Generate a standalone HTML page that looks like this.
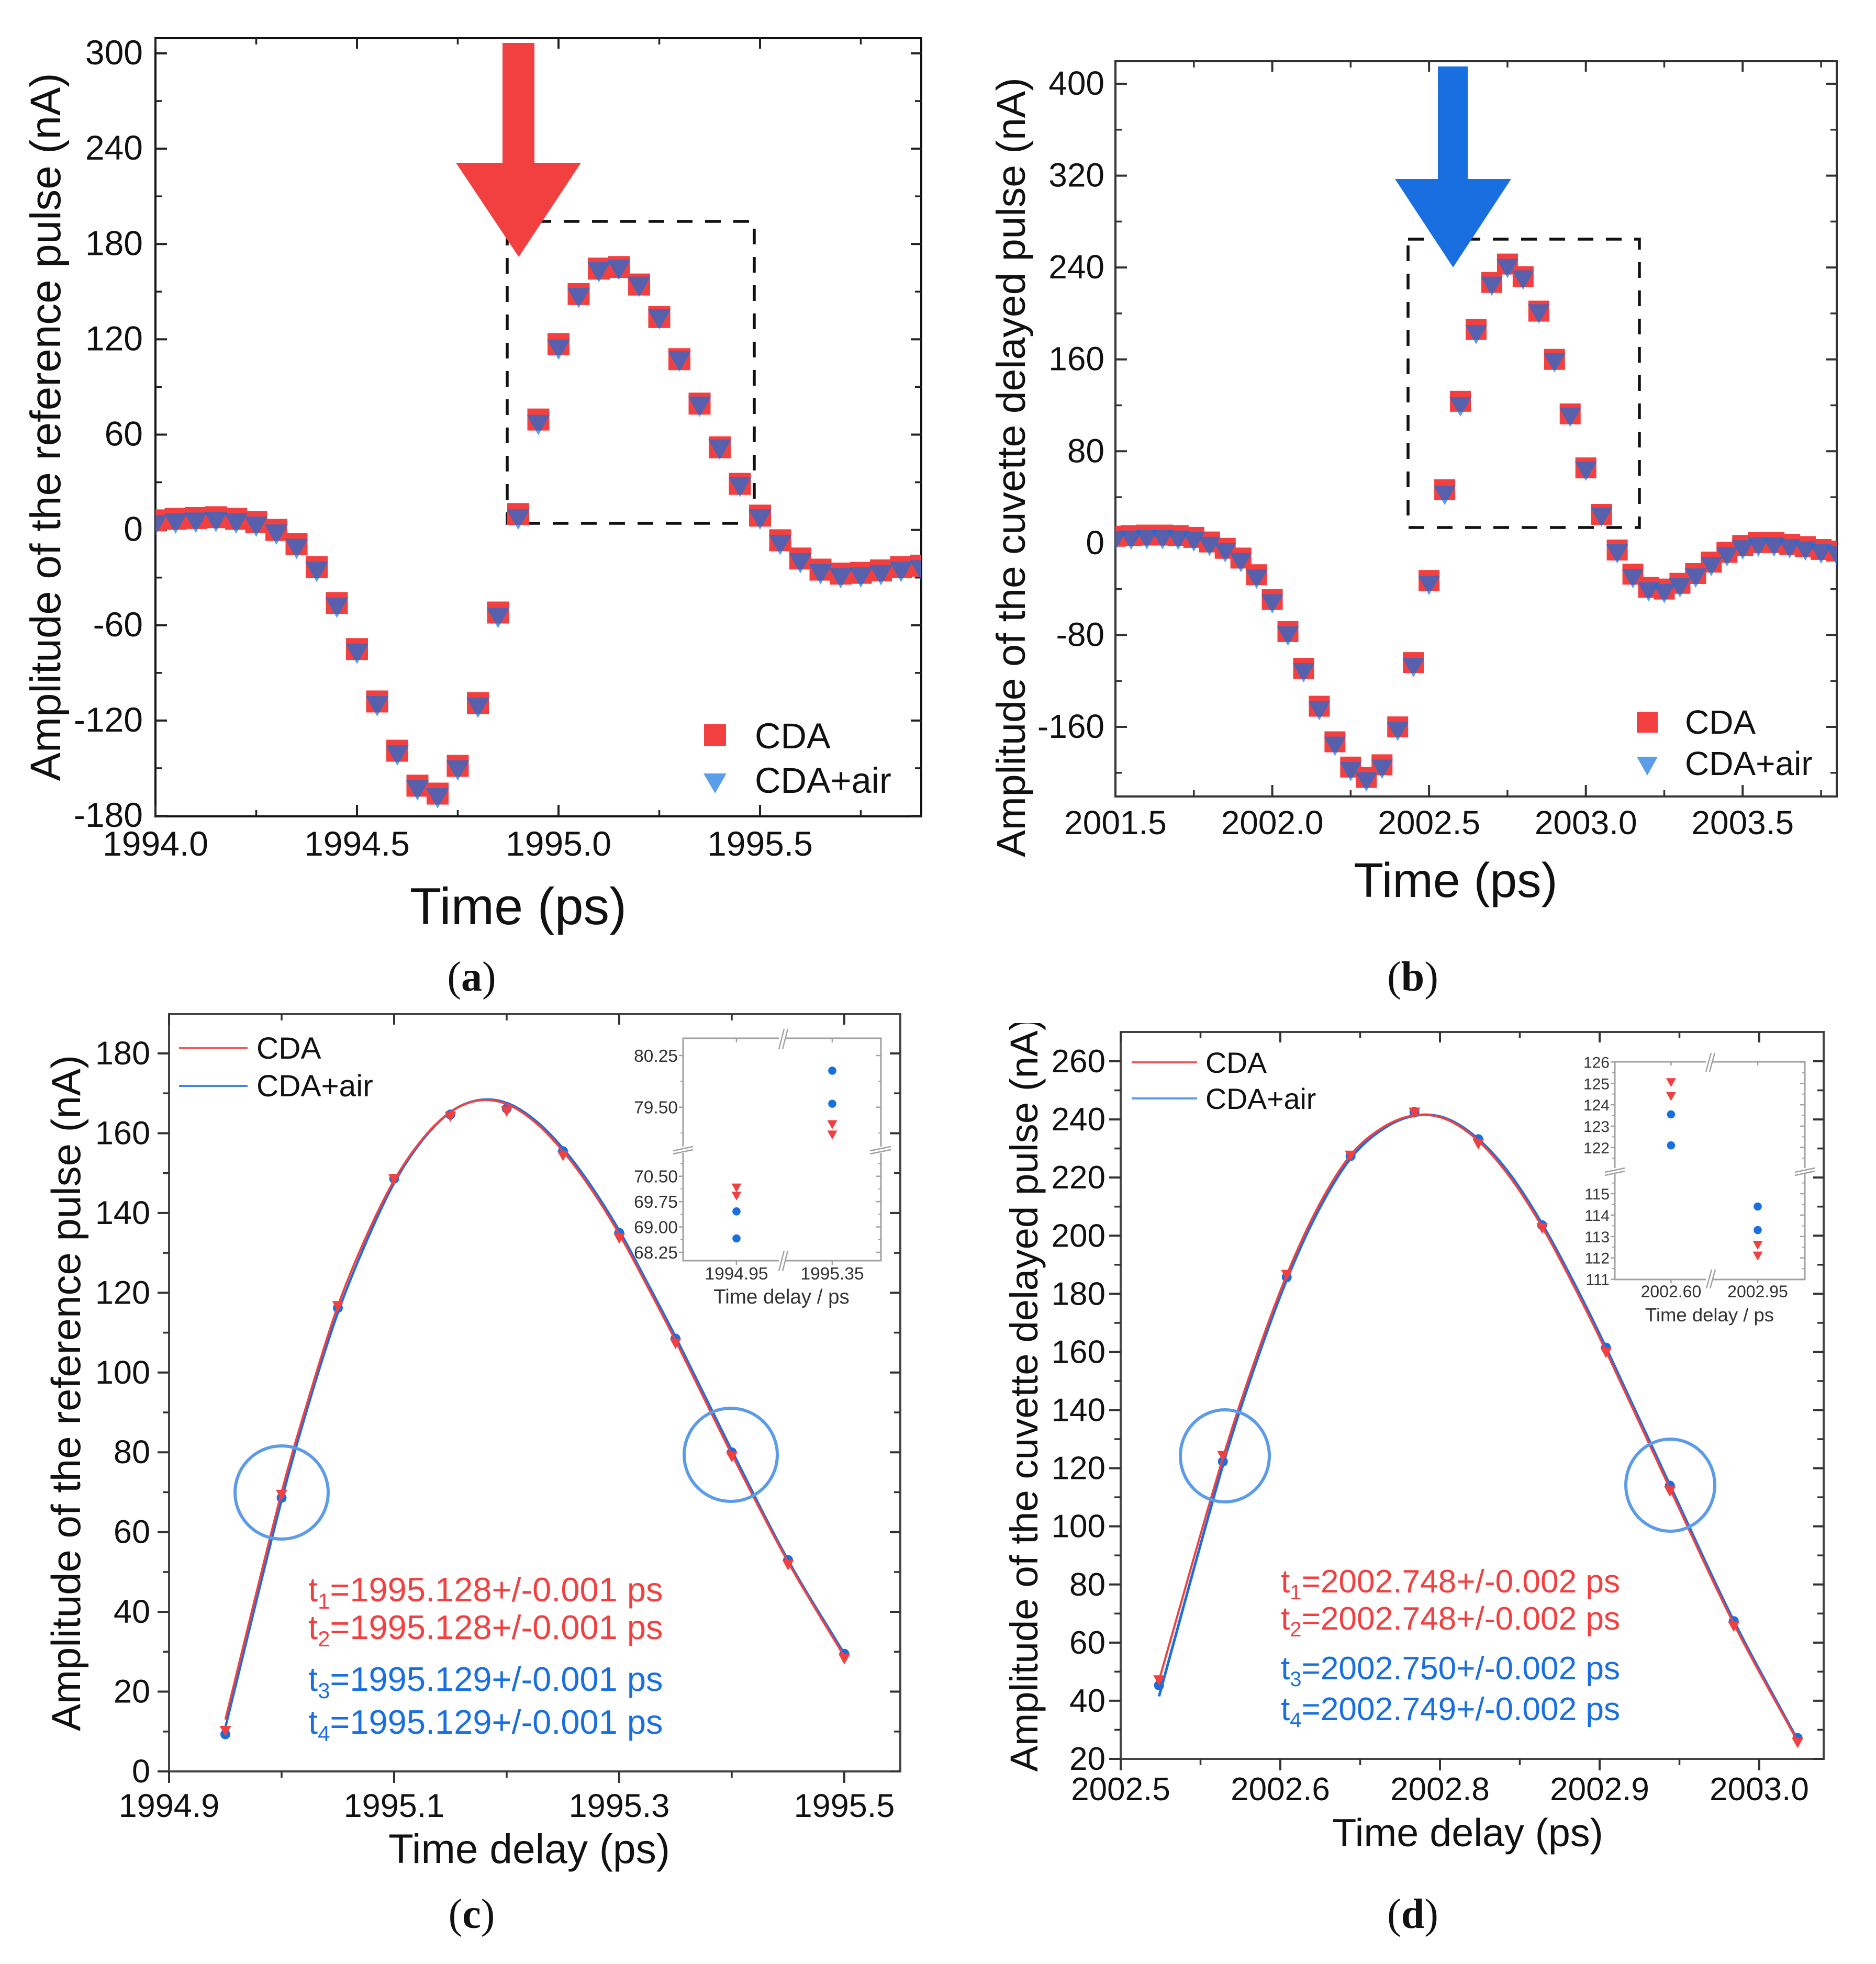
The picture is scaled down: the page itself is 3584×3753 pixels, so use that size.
<!DOCTYPE html>
<html lang="en">
<head>
<meta charset="utf-8">
<title>Reference and cuvette delayed pulse amplitudes</title>
<style>
html,body{margin:0;padding:0;background:#fff;}
svg{display:block;font-family:"Liberation Sans",Arial,sans-serif;}
text{fill:#111;}
.serif{font-family:"Liberation Serif",serif;font-size:80px;text-anchor:middle;}
.serif tspan{font-weight:bold;}
</style>
</head>
<body>
<svg id="figure" xmlns="http://www.w3.org/2000/svg" width="3584" height="3753" viewBox="0 0 3584 3753">
<defs>
  <clipPath id="a-plot-clip"><rect x="297" y="73" width="1463" height="1487"/></clipPath>
  <clipPath id="b-plot-clip"><rect x="2131" y="117" width="1378" height="1405"/></clipPath>
  <clipPath id="d-title-clip"><rect x="1880" y="1955" width="200" height="1500"/></clipPath>
</defs>
<rect width="3584" height="3753" fill="#fff"/>

<!-- PANEL A -->
<g id="panel-a">
  <rect x="297" y="73" width="1463" height="1487" fill="none" stroke="#111" stroke-width="4"/>
  <g id="a-axes"></g>
  <rect x="969" y="423" width="472" height="577" fill="none" stroke="#111" stroke-width="5.5" stroke-dasharray="30 24"/>
  <g id="a-marks" clip-path="url(#a-plot-clip)"></g>
  <polygon points="960,82 1021,82 1021,311 1110,311 991,491 871,311 960,311" fill="#f24040"/>
  <text transform="translate(115 816) rotate(-90)" text-anchor="middle" font-size="81.7">Amplitude of the reference pulse (nA)</text>
  <text x="990" y="1766" text-anchor="middle" font-size="99">Time (ps)</text>
  <rect x="1345" y="1384" width="42" height="42" fill="#f24040"/>
  <polygon points="1344,1478 1388,1478 1366,1516" fill="#5a9eea"/>
  <text x="1442" y="1430" font-size="68.5">CDA</text>
  <text x="1442" y="1515" font-size="68.5">CDA+air</text>
  <text class="serif" x="901" y="1893">(<tspan>a</tspan>)</text>
</g>

<!-- PANEL B -->
<g id="panel-b">
  <rect x="2131" y="117" width="1378" height="1405" fill="none" stroke="#333" stroke-width="4"/>
  <g id="b-axes"></g>
  <rect x="2690" y="457" width="442" height="551" fill="none" stroke="#111" stroke-width="5.5" stroke-dasharray="30 24"/>
  <g id="b-marks" clip-path="url(#b-plot-clip)"></g>
  <polygon points="2747,127 2804,127 2804,342 2887,342 2776,511 2665,342 2747,342" fill="#1a6fe0"/>
  <text transform="translate(1958 893) rotate(-90)" text-anchor="middle" font-size="77">Amplitude of the cuvette delayed pulse (nA)</text>
  <text x="2781" y="1714" text-anchor="middle" font-size="93">Time (ps)</text>
  <rect x="3127" y="1360" width="40" height="40" fill="#f24040"/>
  <polygon points="3127,1446 3167,1446 3147,1482" fill="#5a9eea"/>
  <text x="3219" y="1402" font-size="64">CDA</text>
  <text x="3219" y="1481" font-size="64">CDA+air</text>
  <text class="serif" x="2699" y="1893">(<tspan>b</tspan>)</text>
</g>

<!-- PANEL C -->
<g id="panel-c">
  <rect x="323" y="1938" width="1397" height="1447" fill="none" stroke="#444" stroke-width="4"/>
  <g id="c-axes"></g>
  <g id="c-marks"></g>
  <ellipse cx="538" cy="2852" rx="89" ry="89" fill="none" stroke="#5b9be8" stroke-width="6"/>
  <ellipse cx="1396" cy="2780" rx="89" ry="89" fill="none" stroke="#5b9be8" stroke-width="6"/>
  <text transform="translate(153 2662) rotate(-90)" text-anchor="middle" font-size="78">Amplitude of the reference pulse (nA)</text>
  <text x="1011" y="3560" text-anchor="middle" font-size="78.5">Time delay (ps)</text>
  <line x1="342" y1="2003" x2="473" y2="2003" stroke="#f25a5a" stroke-width="4"/>
  <line x1="342" y1="2075" x2="473" y2="2075" stroke="#3f86e6" stroke-width="4"/>
  <text x="490" y="2023" font-size="58.5">CDA</text>
  <text x="490" y="2095" font-size="58.5">CDA+air</text>
  <g font-size="65">
    <text x="589" y="3060" style="fill:#f24040">t<tspan font-size="42" dy="14" style="fill:#f24040">1</tspan><tspan dy="-14" style="fill:#f24040">=1995.128+/-0.001 ps</tspan></text>
    <text x="589" y="3132" style="fill:#f24040">t<tspan font-size="42" dy="14" style="fill:#f24040">2</tspan><tspan dy="-14" style="fill:#f24040">=1995.128+/-0.001 ps</tspan></text>
    <text x="589" y="3231" style="fill:#1a6fe0">t<tspan font-size="42" dy="14" style="fill:#1a6fe0">3</tspan><tspan dy="-14" style="fill:#1a6fe0">=1995.129+/-0.001 ps</tspan></text>
    <text x="589" y="3313" style="fill:#1a6fe0">t<tspan font-size="42" dy="14" style="fill:#1a6fe0">4</tspan><tspan dy="-14" style="fill:#1a6fe0">=1995.129+/-0.001 ps</tspan></text>
  </g>
  <g id="c-inset">
    <rect x="1305" y="1984" width="378" height="425" fill="#fff" stroke="#a0a0a0" stroke-width="3"/>
    <g id="c-inset-axes"></g>
    <g stroke="#a0a0a0" stroke-width="2.5" fill="none">
      <rect x="1488" y="1978" width="12" height="12" fill="#fff" stroke="none"/>
      <rect x="1488" y="2402" width="12" height="12" fill="#fff" stroke="none"/>
      <rect x="1299" y="2191" width="12" height="12" fill="#fff" stroke="none"/>
      <rect x="1677" y="2191" width="12" height="12" fill="#fff" stroke="none"/>
      <path d="M1488 2005L1498 1966M1495 2005L1505 1966M1488 2429L1498 2390M1495 2429L1505 2390M1286 2199L1324 2191M1286 2205L1324 2197M1662 2199L1702 2191M1662 2205L1702 2197"/>
    </g>
    <g id="c-inset-marks"></g>
    <text x="1493" y="2491" text-anchor="middle" font-size="38.5" style="fill:#333">Time delay / ps</text>
  </g>
  <text class="serif" x="901" y="3684">(<tspan>c</tspan>)</text>
</g>

<!-- PANEL D -->
<g id="panel-d">
  <rect x="2141" y="1972" width="1343" height="1389" fill="none" stroke="#444" stroke-width="4"/>
  <g id="d-axes"></g>
  <g id="d-marks"></g>
  <ellipse cx="2340" cy="2782" rx="85" ry="88" fill="none" stroke="#5b9be8" stroke-width="6"/>
  <ellipse cx="3191" cy="2838" rx="85" ry="88" fill="none" stroke="#5b9be8" stroke-width="6"/>
  <g clip-path="url(#d-title-clip)">
    <text transform="translate(1982 2665) rotate(-90)" text-anchor="middle" font-size="74.5">Amplitude of the cuvette delayed pulse (nA)</text>
  </g>
  <text x="2804" y="3528" text-anchor="middle" font-size="75.5">Time delay (ps)</text>
  <line x1="2162" y1="2030" x2="2287" y2="2030" stroke="#f25a5a" stroke-width="4"/>
  <line x1="2162" y1="2099" x2="2287" y2="2099" stroke="#5b9be8" stroke-width="4"/>
  <text x="2303" y="2050" font-size="55.5">CDA</text>
  <text x="2303" y="2119" font-size="55.5">CDA+air</text>
  <g font-size="62.2">
    <text x="2447" y="3043" style="fill:#f24040">t<tspan font-size="40" dy="13" style="fill:#f24040">1</tspan><tspan dy="-13" style="fill:#f24040">=2002.748+/-0.002 ps</tspan></text>
    <text x="2447" y="3114" style="fill:#f24040">t<tspan font-size="40" dy="13" style="fill:#f24040">2</tspan><tspan dy="-13" style="fill:#f24040">=2002.748+/-0.002 ps</tspan></text>
    <text x="2447" y="3209" style="fill:#1a6fe0">t<tspan font-size="40" dy="13" style="fill:#1a6fe0">3</tspan><tspan dy="-13" style="fill:#1a6fe0">=2002.750+/-0.002 ps</tspan></text>
    <text x="2447" y="3287" style="fill:#1a6fe0">t<tspan font-size="40" dy="13" style="fill:#1a6fe0">4</tspan><tspan dy="-13" style="fill:#1a6fe0">=2002.749+/-0.002 ps</tspan></text>
  </g>
  <g id="d-inset">
    <rect x="3085" y="2029" width="363" height="416" fill="#fff" stroke="#a0a0a0" stroke-width="3"/>
    <g id="d-inset-axes"></g>
    <g stroke="#a0a0a0" stroke-width="2.5" fill="none">
      <rect x="3259" y="2023" width="12" height="12" fill="#fff" stroke="none"/>
      <rect x="3259" y="2439" width="12" height="12" fill="#fff" stroke="none"/>
      <rect x="3079" y="2232" width="12" height="12" fill="#fff" stroke="none"/>
      <rect x="3442" y="2232" width="12" height="12" fill="#fff" stroke="none"/>
      <path d="M3259 2048L3269 2012M3266 2048L3276 2012M3260 2462L3270 2426M3267 2462L3277 2426M3066 2240L3104 2232M3066 2246L3104 2238M3429 2240L3467 2232M3429 2246L3467 2238"/>
    </g>
    <g id="d-inset-marks"></g>
    <text x="3266" y="2525" text-anchor="middle" font-size="36.5" style="fill:#333">Time delay / ps</text>
  </g>
  <text class="serif" x="2699" y="3684">(<tspan>d</tspan>)</text>
</g>
</svg>

<script>
// ---------- Panel A data ----------
const aTimes = [1994.0,1994.05,1994.1,1994.15,1994.2,1994.25,1994.3,1994.35,1994.4,1994.45,1994.5,1994.55,1994.6,1994.65,1994.7,1994.75,1994.8,1994.85,1994.9,1994.95,1995.0,1995.05,1995.1,1995.15,1995.2,1995.25,1995.3,1995.35,1995.4,1995.45,1995.5,1995.55,1995.6,1995.65,1995.7,1995.75,1995.8,1995.85,1995.9];
const aCda = [6,7,7.5,8,7,5,0,-9,-23.5,-46,-75,-108,-139,-161,-166,-148.5,-109,-52,10,69.5,117,148.5,164.5,165.5,154.5,134,107.5,79.5,52,29,9,-6.5,-18,-25,-27.5,-27,-25.5,-23.5,-22.5];
const aAir = [5.5,6.5,7,7.5,6.5,4.5,-0.5,-9.5,-24,-46.5,-75.5,-108.5,-139.5,-161.5,-166.5,-149,-109.5,-53,9,68.5,116,148.5,164.7,166.2,155.5,135,108.5,80,53,29.5,9,-7,-18.5,-25.5,-28,-27.5,-26,-24,-23];
const aXTicks = [1994.0,1994.5,1995.0,1995.5];
const aXLabels = ['1994.0','1994.5','1995.0','1995.5'];
const aXMinor = [1994.25,1994.75,1995.25,1995.75];
const aYTicks = [300,240,180,120,60,0,-60,-120,-180];
const aYLabels = ['300','240','180','120','60','0','-60','-120','-180'];
const aYMinor = [270,210,150,90,30,-30,-90,-150];

// ---------- Panel B data ----------
const bTimes = [2001.5,2001.55,2001.6,2001.65,2001.7,2001.75,2001.8,2001.85,2001.9,2001.95,2002.0,2002.05,2002.1,2002.15,2002.2,2002.25,2002.3,2002.35,2002.4,2002.45,2002.5,2002.55,2002.6,2002.65,2002.7,2002.75,2002.8,2002.85,2002.9,2002.95,2003.0,2003.05,2003.1,2003.15,2003.2,2003.25,2003.3,2003.35,2003.4,2003.45,2003.5,2003.55,2003.6,2003.65,2003.7,2003.75,2003.8];
const bCda = [6,6.6,7,7,6.6,5,1,-4.5,-13,-27.5,-49,-77,-109,-142,-173,-195,-204,-193,-160,-104,-32.5,46.5,123.5,186,227,243,232,202,160,112.5,65.5,25,-6,-27,-38.5,-40,-35,-26.5,-16.5,-8,-2,0.5,0.5,-1,-3,-5.5,-7];
const bAir = [5.5,6,6.5,6.5,6,4.5,0.5,-5,-13.5,-28,-49.5,-77.5,-109.5,-142.5,-173.5,-195.5,-204.5,-193.5,-160.5,-105,-33.5,45,122,185,227,242.5,232.5,203,160.5,113,66,26,-6,-27.5,-39,-40.5,-35.5,-27,-17,-8.5,-2.5,0,0,-1.5,-3.5,-6,-7.5];
const bXTicks = [2001.5,2002.0,2002.5,2003.0,2003.5];
const bXLabels = ['2001.5','2002.0','2002.5','2003.0','2003.5'];
const bXMinor = [2001.75,2002.25,2002.75,2003.25,2003.75];
const bYTicks = [400,320,240,160,80,0,-80,-160];
const bYLabels = ['400','320','240','160','80','0','-80','-160'];
const bYMinor = [360,280,200,120,40,-40,-120,-200];

// ---------- Panel C data ----------
const cTimes = [1994.95,1995.0,1995.05,1995.1,1995.15,1995.2,1995.25,1995.3,1995.35,1995.4,1995.45,1995.5];
const cCdaPoints = [10.5,69.7,117,148.8,164.5,165.8,154.7,134,107.6,79.2,52.1,28.5];
const cAirPoints = [9.3,68.6,116.2,148.6,164.7,166.2,155.5,135,108.5,80,53,29.5];
const cCurveTimes = [1994.95,1995.0,1995.025,1995.05,1995.075,1995.1,1995.125,1995.15,1995.175,1995.2,1995.225,1995.25,1995.275,1995.3,1995.325,1995.35,1995.4,1995.45,1995.5];
const cCdaCurve = [13,70,94.5,116.7,134,148.2,158.5,165.3,168.2,167.3,162.8,155.5,146,134.7,121.6,108,79.5,52.5,28.8];
const cAirCurve = [11,68,93,115,132.6,147.5,158.2,165.3,168.3,167.6,163.3,156.2,146.8,135.6,122.5,109,80.5,53,29.5];
const cXTicks = [1994.9,1995.1,1995.3,1995.5];
const cXLabels = ['1994.9','1995.1','1995.3','1995.5'];
const cXMinor = [1995.0,1995.2,1995.4];
const cYTicks = [180,160,140,120,100,80,60,40,20,0];
const cYLabels = ['180','160','140','120','100','80','60','40','20','0'];
const cYMinor = [170,150,130,110,90,70,50,30,10];

// Panel C inset data
const cInsetCategories = ['1994.95','1995.35'];
const cInsetCdaLeft = [70.16,69.92];
const cInsetAirLeft = [69.46,68.66];
const cInsetCdaRight = [79.25,79.1];
const cInsetAirRight = [80.03,79.55];
const cInsetYTicks = [80.25,79.5,70.5,69.75,69.0,68.25];
const cInsetYLabels = ['80.25','79.50','70.50','69.75','69.00','68.25'];
const cInsetYMinor = [79.875,79.125,70.875,70.125,69.375,68.625];

// ---------- Panel D data ----------
const dTimes = [2002.53,2002.58,2002.63,2002.68,2002.73,2002.78,2002.83,2002.88,2002.93,2002.98,2003.03];
const dCdaPoints = [47.5,124.7,187,228,242.8,232,203,160.2,112.5,66,26];
const dAirPoints = [45.3,122.3,185.7,227.4,242.6,233.2,203.6,161.5,114,67.4,27.2];
const dCurveTimes = [2002.53,2002.58,2002.605,2002.63,2002.655,2002.68,2002.705,2002.73,2002.755,2002.78,2002.805,2002.83,2002.855,2002.88,2002.93,2002.98,2003.03];
const dCdaCurve = [47,123.5,157,186.5,210.3,227.7,237.2,241.4,240,232.6,220,203,182.5,160.3,113,66.5,26];
const dAirCurve = [41.5,121,155,184.8,208.8,226.6,236.6,241.3,240.3,233.2,221,204,183.7,161.5,114.2,67.5,26.5];
const dXTicks = [2002.5,2002.625,2002.75,2002.875,2003.0];
const dXLabels = ['2002.5','2002.6','2002.8','2002.9','2003.0'];
const dXMinor = [2002.5625,2002.6875,2002.8125,2002.9375];
const dYTicks = [260,240,220,200,180,160,140,120,100,80,60,40,20];
const dYLabels = ['260','240','220','200','180','160','140','120','100','80','60','40','20'];
const dYMinor = [250,230,210,190,170,150,130,110,90,70,50,30];

// Panel D inset data
const dInsetCategories = ['2002.60','2002.95'];
const dInsetCdaLeft = [125.05,124.4];
const dInsetAirLeft = [123.55,122.1];
const dInsetCdaRight = [112.6,112.1];
const dInsetAirRight = [114.4,113.3];
const dInsetYTicks = [126,125,124,123,122,115,114,113,112,111];
const dInsetYLabels = ['126','125','124','123','122','115','114','113','112','111'];
const dInsetYMinor = [125.5,124.5,123.5,122.5,121.5,115.5,114.5,113.5,112.5,111.5];

// ---------- Drawing ----------
const NS = 'http://www.w3.org/2000/svg';
const RED = '#f24040';
const BLUE = '#1a6fe0';
const OVER = 'rgba(12,112,224,0.68)';

function node(parent, tag, props) {
  const e = document.createElementNS(NS, tag);
  for (const k in props) e.setAttribute(k, props[k]);
  parent.appendChild(e);
  return e;
}

function makeScale(d0, d1, r0, r1) {
  return function (v) { return r0 + (v - d0) * (r1 - r0) / (d1 - d0); };
}

function tickLine(g, x1, y1, x2, y2, color, width) {
  const t = node(g, 'line', {x1: x1, y1: y1, x2: x2, y2: y2, stroke: color, 'stroke-width': width});
  
  
}

function tickLabel(g, x, y, str, size, anchor, color) {
  const t = node(g, 'text', {x: x, y: y, 'font-size': size, 'text-anchor': anchor});
  t.style.fill = color;
  t.textContent = str;
  
  
}

function drawAxes(g, o) {
  const f = o.frame;
  const leftDir = o.outward ? -1 : 1;
  o.xTicks.forEach(function (v, i) {
    const px = o.x(v);
    tickLine(g, px, f.bottom, px, f.bottom - leftDir * 22, o.color, 4);
    tickLine(g, px, f.top, px, f.top + 20, o.color, 4);
    tickLabel(g, px, o.xLabelY, o.xLabels[i], o.tickSize, 'middle', '#111');
  });
  o.xMinor.forEach(function (v) {
    const px = o.x(v);
    tickLine(g, px, f.bottom, px, f.bottom - leftDir * 12, o.color, 3.5);
    tickLine(g, px, f.top, px, f.top + 12, o.color, 3.5);
  });
  o.yTicks.forEach(function (v, i) {
    const py = o.y(v);
    tickLine(g, f.left, py, f.left + leftDir * 22, py, o.color, 4);
    tickLine(g, f.right, py, f.right - 20, py, o.color, 4);
    tickLabel(g, o.yLabelX, py + 21, o.yLabels[i], o.tickSize, 'end', '#111');
  });
  o.yMinor.forEach(function (v) {
    const py = o.y(v);
    tickLine(g, f.left, py, f.left + leftDir * 12, py, o.color, 3.5);
    tickLine(g, f.right, py, f.right - 12, py, o.color, 3.5);
  });
}

function drawSquareSeries(g, times, values, x, y, size) {
  times.forEach(function (t, i) {
    const m = node(g, 'rect', {x: x(t) - size / 2, y: y(values[i]) - size / 2, width: size, height: size, fill: RED});
    
    
  });
}

function drawTriangleSeries(g, times, values, x, y, half, up, down, fill, name) {
  times.forEach(function (t, i) {
    const cx = x(t);
    const cy = y(values[i]);
    const m = node(g, 'polygon', {points: (cx - half) + ',' + (cy - up) + ' ' + (cx + half) + ',' + (cy - up) + ' ' + cx + ',' + (cy + down), fill: fill});
    
    
  });
}

function drawCircleSeries(g, times, values, x, y, r) {
  times.forEach(function (t, i) {
    const m = node(g, 'circle', {cx: x(t), cy: y(values[i]), r: r, fill: BLUE});
    
    
  });
}

function drawCurve(g, times, values, x, y, color, width, name) {
  const px = times.map(x);
  const py = values.map(y);
  const n = px.length;
  const slope = function (i) {
    const a = Math.max(0, i - 1);
    const b = Math.min(n - 1, i + 1);
    return (py[b] - py[a]) / (px[b] - px[a]);
  };
  let d = 'M' + px[0] + ' ' + py[0];
  for (let i = 0; i < n - 1; i++) {
    const dx = px[i + 1] - px[i];
    d += 'C' + (px[i] + dx / 3) + ' ' + (py[i] + slope(i) * dx / 3) + ' ' +
         (px[i + 1] - dx / 3) + ' ' + (py[i + 1] - slope(i + 1) * dx / 3) + ' ' +
         px[i + 1] + ' ' + py[i + 1];
  }
  const c = node(g, 'path', {d: d, fill: 'none', stroke: color, 'stroke-width': width});
  
  
}

function byId(id) { return document.getElementById(id); }

// Panel A
(function () {
  const frame = {left: 297, right: 1760, top: 73, bottom: 1560};
  const x = makeScale(1994.0, 1995.9, frame.left, frame.right);
  const y = makeScale(-180, 300, 1559, 102);
  drawAxes(byId('a-axes'), {frame: frame, x: x, y: y, outward: false, color: '#222', tickSize: 66,
    xTicks: aXTicks, xLabels: aXLabels, xMinor: aXMinor, yTicks: aYTicks, yLabels: aYLabels, yMinor: aYMinor,
    xLabelY: 1635, yLabelX: 273});
  const g = byId('a-marks');
  drawSquareSeries(g, aTimes, aCda, x, y, 42);
  drawTriangleSeries(g, aTimes, aAir, x, y, 22, 12, 27, OVER, 'cda-air-point');
})();

// Panel B
(function () {
  const frame = {left: 2131, right: 3509, top: 117, bottom: 1522};
  const x = makeScale(2001.5, 2003.8, frame.left, frame.right);
  const y = makeScale(-160, 400, 1389, 160);
  drawAxes(byId('b-axes'), {frame: frame, x: x, y: y, outward: false, color: '#333', tickSize: 64,
    xTicks: bXTicks, xLabels: bXLabels, xMinor: bXMinor, yTicks: bYTicks, yLabels: bYLabels, yMinor: bYMinor,
    xLabelY: 1594, yLabelX: 2110});
  const g = byId('b-marks');
  drawSquareSeries(g, bTimes, bCda, x, y, 40);
  drawTriangleSeries(g, bTimes, bAir, x, y, 21, 11, 26, OVER, 'cda-air-point');
})();

// Panel C
(function () {
  const frame = {left: 323, right: 1720, top: 1938, bottom: 3385};
  const x = makeScale(1994.9, 1995.5, frame.left, 1613);
  const y = makeScale(0, 180, 3385, 2013);
  drawAxes(byId('c-axes'), {frame: frame, x: x, y: y, outward: true, color: '#333', tickSize: 63,
    xTicks: cXTicks, xLabels: cXLabels, xMinor: cXMinor, yTicks: cYTicks, yLabels: cYLabels, yMinor: cYMinor,
    xLabelY: 3472, yLabelX: 287});
  const g = byId('c-marks');
  drawCircleSeries(g, cTimes, cAirPoints, x, y, 9.5);
  drawCurve(g, cCurveTimes, cAirCurve, x, y, BLUE, 4.5, 'fit-curve-cda-air');
  drawCurve(g, cCurveTimes, cCdaCurve, x, y, RED, 4, 'fit-curve-cda');
  drawTriangleSeries(g, cTimes, cCdaPoints, x, y, 11, 7, 13, RED, 'cda-point');

  // inset: piecewise y axis with a break
  const ix = makeScale(0, 1, 1407, 1590);
  const iyUpper = makeScale(79.5, 80.25, 2115.7, 2017);
  const iyLower = makeScale(68.25, 70.5, 2393, 2247.7);
  const iy = function (v) { return v > 75 ? iyUpper(v) : iyLower(v); };
  const ag = byId('c-inset-axes');
  cInsetYTicks.forEach(function (v, i) {
    tickLine(ag, 1305, iy(v), 1297, iy(v), '#a0a0a0', 2.5);
    tickLine(ag, 1683, iy(v), 1674, iy(v), '#a0a0a0', 2.5);
    tickLabel(ag, 1295, iy(v) + 12, cInsetYLabels[i], 33.5, 'end', '#333');
  });
  cInsetYMinor.forEach(function (v) {
    tickLine(ag, 1305, iy(v), 1300, iy(v), '#a0a0a0', 2);
    tickLine(ag, 1683, iy(v), 1678, iy(v), '#a0a0a0', 2);
  });
  cInsetCategories.forEach(function (c, i) {
    tickLine(ag, ix(i), 2409, ix(i), 2417, '#a0a0a0', 2.5);
    tickLine(ag, ix(i), 1984, ix(i), 1992, '#a0a0a0', 2.5);
    tickLabel(ag, ix(i), 2445, c, 33.5, 'middle', '#333');
  });
  const mg = byId('c-inset-marks');
  const at = function (i) { return function () { return ix(i); }; };
  drawTriangleSeries(mg, cInsetCdaLeft, cInsetCdaLeft, at(0), iy, 9.5, 8, 9, RED, 'inset-cda-point');
  drawTriangleSeries(mg, cInsetCdaRight, cInsetCdaRight, at(1), iy, 9.5, 8, 9, RED, 'inset-cda-point');
  drawCircleSeries(mg, cInsetAirLeft, cInsetAirLeft, at(0), iy, 7.8);
  drawCircleSeries(mg, cInsetAirRight, cInsetAirRight, at(1), iy, 7.8);
})();

// Panel D
(function () {
  const frame = {left: 2141, right: 3484, top: 1972, bottom: 3361};
  const x = makeScale(2002.5, 2003.0, frame.left, 3361);
  const y = makeScale(20, 260, 3361, 2028);
  drawAxes(byId('d-axes'), {frame: frame, x: x, y: y, outward: true, color: '#333', tickSize: 62,
    xTicks: dXTicks, xLabels: dXLabels, xMinor: dXMinor, yTicks: dYTicks, yLabels: dYLabels, yMinor: dYMinor,
    xLabelY: 3440, yLabelX: 2112});
  const g = byId('d-marks');
  drawCircleSeries(g, dTimes, dAirPoints, x, y, 9.5);
  drawCurve(g, dCurveTimes, dAirCurve, x, y, BLUE, 5, 'fit-curve-cda-air');
  drawCurve(g, dCurveTimes, dCdaCurve, x, y, RED, 4, 'fit-curve-cda');
  drawTriangleSeries(g, dTimes, dCdaPoints, x, y, 11, 7, 13, RED, 'cda-point');

  // inset: piecewise y axis with a break
  const ix = makeScale(0, 1, 3192.4, 3358);
  const iyUpper = makeScale(122, 126, 2192.8, 2029.4);
  const iyLower = makeScale(111, 115, 2444.6, 2281);
  const iy = function (v) { return v > 118 ? iyUpper(v) : iyLower(v); };
  const ag = byId('d-inset-axes');
  dInsetYTicks.forEach(function (v, i) {
    tickLine(ag, 3085, iy(v), 3077, iy(v), '#a0a0a0', 2.5);
    tickLine(ag, 3448, iy(v), 3439, iy(v), '#a0a0a0', 2.5);
    tickLabel(ag, 3075, iy(v) + 11, dInsetYLabels[i], 30, 'end', '#333');
  });
  dInsetYMinor.forEach(function (v) {
    tickLine(ag, 3085, iy(v), 3080, iy(v), '#a0a0a0', 2);
    tickLine(ag, 3448, iy(v), 3443, iy(v), '#a0a0a0', 2);
  });
  dInsetCategories.forEach(function (c, i) {
    tickLine(ag, ix(i), 2445, ix(i), 2452, '#a0a0a0', 2.5);
    tickLine(ag, ix(i), 2029, ix(i), 2036, '#a0a0a0', 2.5);
    tickLabel(ag, ix(i), 2479, c, 32, 'middle', '#333');
  });
  const mg = byId('d-inset-marks');
  const at = function (i) { return function () { return ix(i); }; };
  drawTriangleSeries(mg, dInsetCdaLeft, dInsetCdaLeft, at(0), iy, 9.5, 8, 9, RED, 'inset-cda-point');
  drawTriangleSeries(mg, dInsetCdaRight, dInsetCdaRight, at(1), iy, 9.5, 8, 9, RED, 'inset-cda-point');
  drawCircleSeries(mg, dInsetAirLeft, dInsetAirLeft, at(0), iy, 7.8);
  drawCircleSeries(mg, dInsetAirRight, dInsetAirRight, at(1), iy, 7.8);
})();
</script>
</body>
</html>
